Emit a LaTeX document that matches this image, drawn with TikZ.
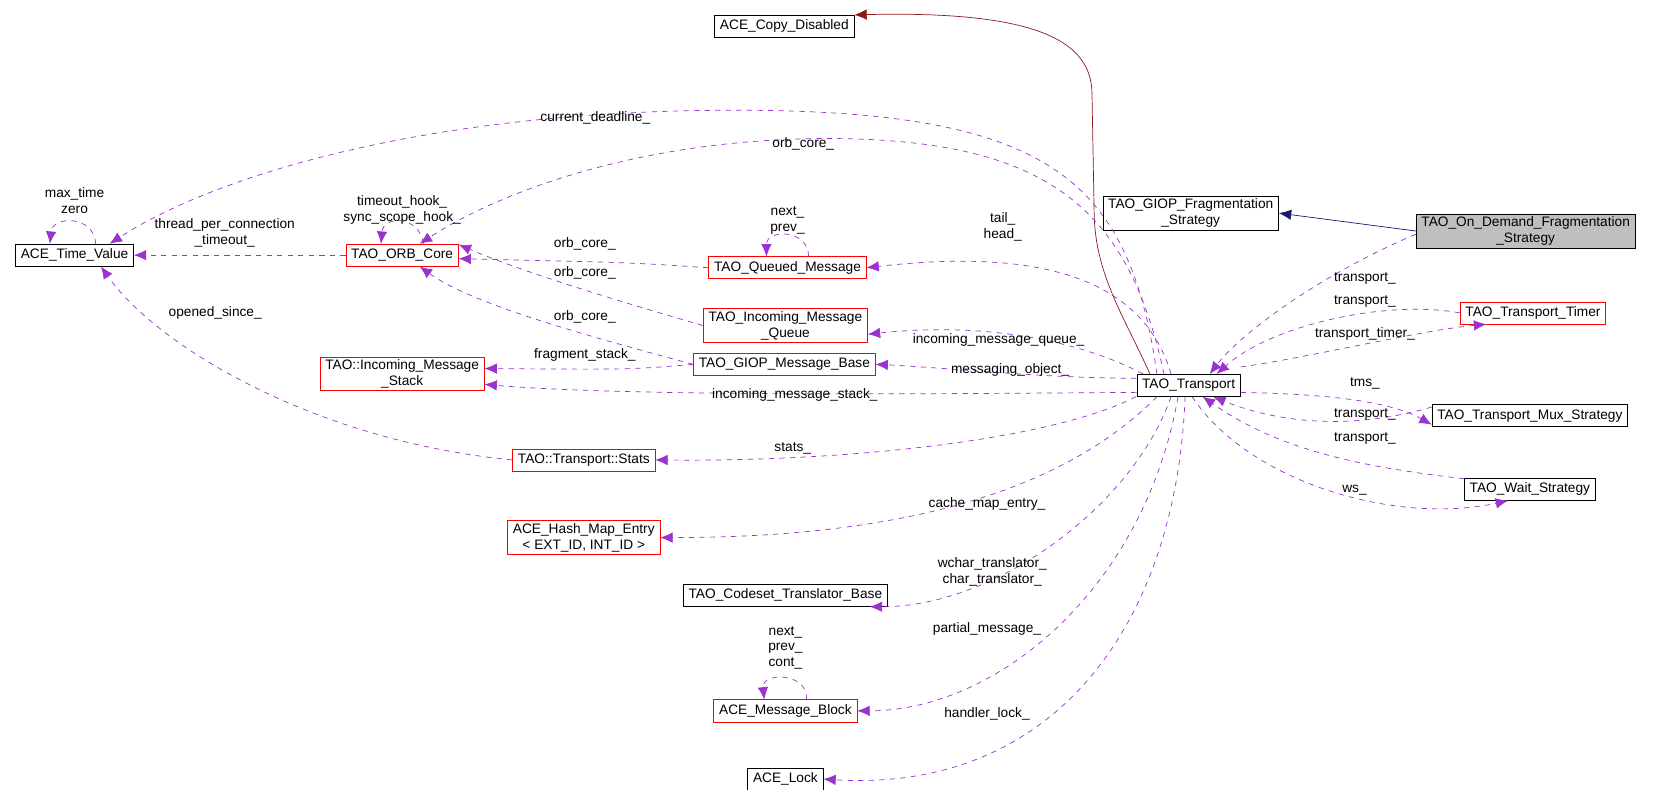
\documentclass[tikz,border=0pt]{standalone}
\usepackage{fontspec}
\setmainfont{Liberation Sans}
\usetikzlibrary{arrows.meta}
\definecolor{memb}{HTML}{9A32CD}
\definecolor{inher}{HTML}{191970}
\definecolor{priv}{HTML}{8B1A1A}
\tikzset{cls/.style={draw=black, fill=white, font=\fontsize{7.8}{9}\selectfont, align=center, inner xsep=3pt, inner ysep=1.5pt, minimum height=21*0.021cm},
redcls/.style={cls, draw=red},
lbl/.style={font=\fontsize{7.8}{9}\selectfont, align=center, inner sep=0pt},
member/.style={draw=memb, dashed, thin, -{Latex[length=7pt,width=6pt]}}}

\begin{document}
\begin{tikzpicture}[x=0.021cm, y=-0.021cm]
\useasboundingbox[fill=white] (0,0) rectangle (1580,752);
% classes
\node[cls] (copy) at (747,25) {ACE\_Copy\_Disabled};
\node[cls, fill=gray!50] (ondemand) at (1453,220) {TAO\_On\_Demand\_Fragmentation\\\_Strategy};
\node[cls] (giopfrag) at (1134,203) {TAO\_GIOP\_Fragmentation\\\_Strategy};
\node[cls] (timevalue) at (71,243) {ACE\_Time\_Value};
\node[redcls] (orbcore) at (383,243) {TAO\_ORB\_Core};
\node[redcls] (queued) at (750,255) {TAO\_Queued\_Message};
\node[redcls] (inqueue) at (748,310) {TAO\_Incoming\_Message\\\_Queue};
\node[redcls] (giopbase) at (747,347) {TAO\_GIOP\_Message\_Base};
\node[redcls] (stack) at (383,356) {TAO::Incoming\_Message\\\_Stack};
\node[cls] (transport) at (1132,367) {TAO\_Transport};
\node[redcls] (timer) at (1460,298) {TAO\_Transport\_Timer};
\node[cls] (mux) at (1457,396) {TAO\_Transport\_Mux\_Strategy};
\node[cls] (wait) at (1457,466) {TAO\_Wait\_Strategy};
\node[redcls] (stats) at (556,438) {TAO::Transport::Stats};
\node[redcls] (hashmap) at (556,512) {ACE\_Hash\_Map\_Entry\\< EXT\_ID, INT\_ID >};
\node[cls] (codeset) at (748,567) {TAO\_Codeset\_Translator\_Base};
\node[redcls] (msgblock) at (748,677) {ACE\_Message\_Block};
\node[cls] (lock) at (748,742) {ACE\_Lock};
% inheritance
\draw[inher, -{Latex[length=7pt,width=6pt]}] (ondemand.west) -- (giopfrag.east);
\draw[priv, -{Latex[length=7pt,width=6pt]}] ([xshift=-22]transport.north) .. controls (1070,300) and (1042,260) .. (1042,200) -- (1040,90) .. controls (1040,40) and (990,10) .. (copy.north east);
% members
\draw[member] ([xshift=-18]transport.north) .. controls (1075,170) and (1000,105) .. (700,105) .. controls (400,105) and (200,170) .. ([xshift=20]timevalue.north);
\draw[member] ([xshift=-14]transport.north) .. controls (1075,200) and (1000,135) .. (800,132) .. controls (620,130) and (480,180) .. ([xshift=10]orbcore.north);
\draw[member] ([xshift=-10]transport.north) .. controls (1090,270) and (1000,235) .. (queued.east);
\draw[member] ([xshift=-26]transport.north) .. controls (1040,330) and (950,305) .. ([yshift=-5]inqueue.east);
\draw[member] ([yshift=4]transport.west) .. controls (990,360) and (900,350) .. (giopbase.east);
\draw[member] ([yshift=-4]transport.west) .. controls (900,375) and (600,378) .. ([yshift=-6]stack.east);
\draw[member] ([xshift=-30]transport.south) .. controls (1000,420) and (800,440) .. (stats.east);
\draw[member] ([xshift=-18]transport.south) .. controls (1030,450) and (900,512) .. (hashmap.east);
\draw[member] ([xshift=-10]transport.south) .. controls (1080,480) and (950,578) .. ([xshift=48]codeset.south);
\draw[member] ([xshift=-6]transport.south) .. controls (1090,560) and (950,677) .. (msgblock.east);
\draw[member] ([xshift=-2]transport.south) .. controls (1120,600) and (1000,755) .. (lock.east);
\draw[member] (orbcore.west) -- (timevalue.east);
\draw[member] (queued.west) .. controls (600,250) .. ([yshift=-2]orbcore.east);
\draw[member] (inqueue.west) .. controls (600,290) and (500,260) .. ([yshift=6]orbcore.east);
\draw[member] (giopbase.west) .. controls (560,320) and (450,290) .. ([xshift=10]orbcore.south);
\draw[member] (giopbase.west) .. controls (600,352) .. ([yshift=3]stack.east);
\draw[member] (stats.west) .. controls (300,420) and (150,330) .. ([xshift=15]timevalue.south);
% self references
\draw[member] ([xshift=12]timevalue.north) .. controls (90,205) and (50,205) .. ([xshift=-14]timevalue.north);
\draw[member] ([xshift=12]orbcore.north) .. controls (400,205) and (365,205) .. ([xshift=-12]orbcore.north);
\draw[member] ([xshift=12]queued.north) .. controls (770,218) and (730,218) .. ([xshift=-12]queued.north);
\draw[member] ([xshift=12]msgblock.north) .. controls (770,640) and (725,640) .. ([xshift=-12]msgblock.north);
% right side
\draw[member] ([yshift=8]ondemand.south west) .. controls (1250,265) and (1180,320) .. ([xshift=12]transport.north);
\draw[member] (timer.west) .. controls (1320,285) and (1210,310) .. ([xshift=16]transport.north);
\draw[member] ([yshift=4]transport.north east) .. controls (1250,340) and (1350,315) .. ([xshift=15]timer.south west);
\draw[member] ([yshift=-4]transport.east) .. controls (1250,375) and (1320,380) .. ([yshift=-5]mux.west);
\draw[member] ([yshift=5]mux.west) .. controls (1280,412) and (1210,400) .. ([xshift=14]transport.south);
\draw[member] ([yshift=6]wait.west) .. controls (1300,445) and (1220,430) .. ([xshift=8]transport.south);
\draw[member] ([xshift=2]transport.south) .. controls (1190,460) and (1330,500) .. ([xshift=25]wait.south west);
% labels
\node[lbl] (l1) at (567,112) {current\_deadline\_};
\node[lbl] (l2) at (765,137) {orb\_core\_};
\node[lbl] (l3) at (214,222) {thread\_per\_connection\\\_timeout\_};
\node[lbl] (l4) at (71,191) {max\_time\\zero};
\node[lbl] (l5) at (383,200) {timeout\_hook\_\\sync\_scope\_hook\_};
\node[lbl] (l6) at (557,232) {orb\_core\_};
\node[lbl] (l7) at (750,210) {next\_\\prev\_};
\node[lbl] (l8) at (557,260) {orb\_core\_};
\node[lbl] (l9) at (557,302) {orb\_core\_};
\node[lbl] (l10) at (955,216) {tail\_\\head\_};
\node[lbl] (l11) at (951,324) {incoming\_message\_queue\_};
\node[lbl] (l12) at (557,338) {fragment\_stack\_};
\node[lbl] (l13) at (962,352) {messaging\_object\_};
\node[lbl] (l14) at (757,376) {incoming\_message\_stack\_};
\node[lbl] (l15) at (205,298) {opened\_since\_};
\node[lbl] (l16) at (755,427) {stats\_};
\node[lbl] (l17) at (940,480) {cache\_map\_entry\_};
\node[lbl] (l18) at (945,545) {wchar\_translator\_\\char\_translator\_};
\node[lbl] (l19) at (940,599) {partial\_message\_};
\node[lbl] (l20) at (748,617) {next\_\\prev\_\\cont\_};
\node[lbl] (l21) at (940,680) {handler\_lock\_};
\node[lbl] (l22) at (1300,265) {transport\_};
\node[lbl] (l23) at (1300,287) {transport\_};
\node[lbl] (l24) at (1300,318) {transport\_timer\_};
\node[lbl] (l25) at (1300,365) {tms\_};
\node[lbl] (l26) at (1300,395) {transport\_};
\node[lbl] (l27) at (1300,418) {transport\_};
\node[lbl] (l28) at (1290,467) {ws\_};
\end{tikzpicture}
\end{document}
